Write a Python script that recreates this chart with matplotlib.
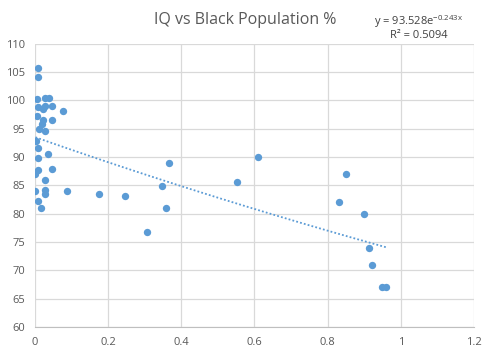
import numpy as np
import matplotlib
matplotlib.use("Agg")
import matplotlib.pyplot as plt

# Data
black_pct = [0.008, 0.008, 0.007, 0.029, 0.038, 0.010, 0.022, 0.029, 0.048, 0.078,
             0.007, 0.024, 0.048, 0.019, 0.013, 0.029, 0.003, 0.008, 0.008, 0.037,
             0.008, 0.048, 0.002, 0.029, 0.002, 0.029, 0.029, 0.089, 0.176, 0.008,
             0.018, 0.248, 0.308, 0.348, 0.360, 0.368, 0.554, 0.611, 0.851, 0.830,
             0.900, 0.912, 0.922, 0.949, 0.960]
iq = [105.7, 104.1, 100.2, 100.4, 100.4, 98.8, 98.5, 99.0, 99.0, 98.1,
      97.2, 96.5, 96.5, 95.8, 94.9, 94.5, 92.9, 91.5, 89.8, 90.5,
      87.7, 87.8, 87.0, 85.9, 84.0, 84.2, 83.4, 84.0, 83.5, 82.2,
      81.0, 83.1, 76.8, 84.8, 81.0, 88.9, 85.5, 90.0, 87.0, 82.0,
      79.9, 73.9, 70.9, 67.0, 67.0]

trend_a = 93.528
trend_b = -0.243
r_squared = 0.5094

title = "IQ vs Black Population %"
x_ticks = [0, 0.2, 0.4, 0.6, 0.8, 1, 1.2]
x_tick_labels = ["0", "0.2", "0.4", "0.6", "0.8", "1", "1.2"]
y_ticks = [60, 65, 70, 75, 80, 85, 90, 95, 100, 105, 110]

plt.rcParams['font.family'] = ['Open Sans', 'DejaVu Sans']
text_color = '#595959'
point_color = '#5B9BD5'

fig = plt.figure(figsize=(4.9, 3.55), dpi=100)
ax = fig.add_axes([0.0708, 0.0789, 0.8965, 0.7981])

ax.scatter(black_pct, iq, s=28, color=point_color, zorder=3, linewidths=0)

xs = np.linspace(min(black_pct), max(black_pct), 100)
ax.plot(xs, trend_a * np.exp(trend_b * xs), linestyle=(0, (1, 1.2)),
        color=point_color, linewidth=1.3, zorder=2)

ax.set_xlim(0, 1.2)
ax.set_ylim(60, 110)
ax.set_xticks(x_ticks)
ax.set_xticklabels(x_tick_labels)
ax.set_yticks(y_ticks)
ax.grid(True, color='#D9D9D9', linewidth=0.9, zorder=0)
ax.set_axisbelow(True)
for s in ax.spines.values():
    s.set_visible(False)
ax.spines['bottom'].set_visible(True)
ax.spines['bottom'].set_color('#BFBFBF')
ax.tick_params(length=0, colors=text_color, labelsize=8, pad=7)

fig.text(0.5, 0.945, title, ha='center', va='center', fontsize=11.5, color=text_color)
fig.text(0.855, 0.938, r"y = 93.528e$^{\mathregular{-0.243x}}$", ha='center', va='center',
         fontsize=8, color='#404040')
fig.text(0.855, 0.900, f"R² = {r_squared}", ha='center', va='center', fontsize=8, color='#404040')

fig.savefig("out.png", dpi=100)
